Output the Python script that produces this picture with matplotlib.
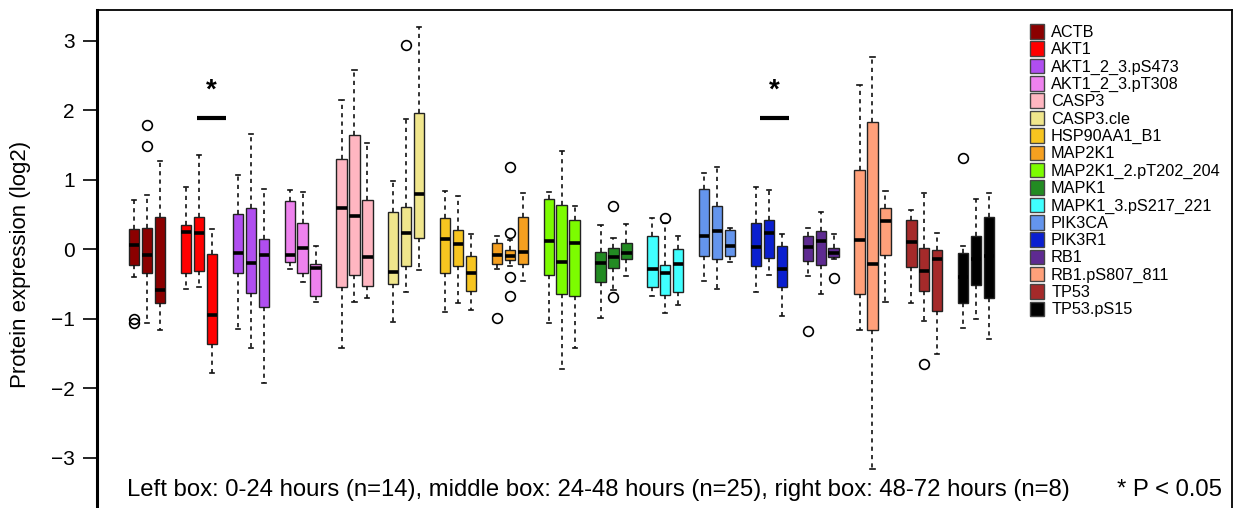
import matplotlib
matplotlib.use("Agg")
import matplotlib.pyplot as plt
from matplotlib.patches import Patch

plt.rcParams["font.family"] = ["Liberation Sans", "DejaVu Sans"]

proteins = ["ACTB", "AKT1", "AKT1_2_3.pS473", "AKT1_2_3.pT308", "CASP3", "CASP3.cle",
            "HSP90AA1_B1", "MAP2K1", "MAP2K1_2.pT202_204", "MAPK1", "MAPK1_3.pS217_221",
            "PIK3CA", "PIK3R1", "RB1", "RB1.pS807_811", "TP53", "TP53.pS15"]
colors = ["#8b0000", "#ff0000", "#b04ef0", "#ee82ee", "#ffb6c1", "#f0e68c",
          "#f7c520", "#f5a020", "#7cfc00", "#228b22", "#40ffff",
          "#6495ed", "#0a1fd0", "#5e2a91", "#ffa07a", "#a52a2a", "#000000"]

# per protein: left / middle / right box (0-24h, 24-48h, 48-72h)
whis_lo = [[-0.40, -1.07, -1.16], [-0.57, -0.54, -1.78], [-1.15, -1.43, -1.93],
           [-0.29, -0.48, -0.76], [-1.43, -0.76, -0.71], [-1.05, -0.62, -0.30],
           [-0.91, -0.78, -0.88], [-0.29, -0.25, -0.46], [-1.07, -1.72, -1.43],
           [-0.99, -0.59, -0.39], [-0.68, -0.92, -0.81], [-0.46, -0.57, -0.18],
           [-0.62, -0.37, -0.96], [-0.39, -0.64, -0.15], [-1.16, -3.16, -0.76],
           [-0.77, -1.03, -1.51], [-1.13, -1.00, -1.30]]
q1 = [[-0.23, -0.34, -0.78], [-0.34, -0.31, -1.37], [-0.34, -0.63, -0.84],
      [-0.19, -0.35, -0.68], [-0.55, -0.37, -0.53], [-0.50, -0.25, 0.16],
      [-0.34, -0.25, -0.60], [-0.21, -0.16, -0.22], [-0.38, -0.64, -0.67],
      [-0.48, -0.27, -0.15], [-0.54, -0.66, -0.62], [-0.10, -0.14, -0.10],
      [-0.24, -0.13, -0.55], [-0.17, -0.23, -0.12], [-0.65, -1.16, -0.08],
      [-0.26, -0.60, -0.89], [-0.77, -0.52, -0.71]]
med = [[0.06, -0.09, -0.59], [0.24, 0.23, -0.95], [-0.05, -0.20, -0.09],
       [-0.09, 0.01, -0.27], [0.59, 0.47, -0.12], [-0.33, 0.23, 0.79],
       [0.15, 0.07, -0.35], [-0.09, -0.10, -0.04], [0.12, -0.19, 0.08],
       [-0.20, -0.12, -0.06], [-0.28, -0.34, -0.22], [0.19, 0.26, 0.04],
       [0.03, 0.23, -0.28], [0.03, 0.12, -0.05], [0.13, -0.21, 0.40],
       [0.10, -0.31, -0.15], [-0.40, -0.15, -0.10]]
q3 = [[0.29, 0.31, 0.46], [0.34, 0.46, -0.07], [0.51, 0.59, 0.14],
      [0.69, 0.37, -0.21], [1.29, 1.64, 0.70], [0.54, 0.61, 1.96],
      [0.44, 0.28, -0.10], [0.08, -0.01, 0.46], [0.72, 0.63, 0.42],
      [-0.04, 0.02, 0.09], [0.19, -0.23, 0.00], [0.87, 0.62, 0.27],
      [0.37, 0.42, 0.04], [0.19, 0.26, 0.01], [1.14, 1.83, 0.59],
      [0.42, 0.02, -0.01], [-0.05, 0.19, 0.46]]
whis_hi = [[0.70, 0.78, 1.26], [0.90, 1.36, 0.29], [1.06, 1.66, 0.87],
           [0.85, 0.82, 0.04], [2.15, 2.57, 1.52], [0.98, 1.87, 3.20],
           [0.83, 0.76, 0.21], [0.19, 0.13, 0.80], [0.82, 1.41, 0.62],
           [0.35, 0.16, 0.36], [0.44, 0.38, 0.19], [1.10, 1.18, 0.30],
           [0.90, 0.85, 0.22], [0.31, 0.54, 0.21], [2.36, 2.77, 0.83],
           [0.56, 0.81, 0.23], [0.04, 0.72, 0.81]]
outliers = {
    (0, 0): [-1.00, -1.06],
    (0, 1): [1.79, 1.48],
    (5, 1): [2.94],
    (7, 0): [-0.99],
    (7, 1): [1.18, 0.23, -0.40, -0.67],
    (9, 1): [0.62, -0.69],
    (10, 1): [0.45],
    (13, 0): [-1.18],
    (13, 2): [-0.41],
    (15, 1): [-1.66],
    (16, 0): [1.31],
}
signif_centers = [6.95, 50.45]

stats, positions, box_colors = [], [], []
for g in range(len(proteins)):
    for k in range(3):
        stats.append(dict(whislo=whis_lo[g][k], q1=q1[g][k], med=med[g][k],
                          q3=q3[g][k], whishi=whis_hi[g][k],
                          fliers=outliers.get((g, k), [])))
        positions.append(4 * g + k + 1)
        box_colors.append(colors[g])

fig = plt.figure(figsize=(12.39, 5.08), dpi=100)
ax = fig.add_axes([97 / 1239, -10 / 508, 1135 / 1239, 508 / 508])

bp = ax.bxp(stats, positions=positions, widths=0.8, capwidths=0.32,
            patch_artist=True, showfliers=True,
            boxprops=dict(edgecolor="#222222", linewidth=1.0),
            whiskerprops=dict(color="#111111", linewidth=1.2, linestyle=(0, (2.5, 2.5))),
            capprops=dict(color="#111111", linewidth=1.2),
            medianprops=dict(color="black", linewidth=2.6),
            flierprops=dict(marker="o", markerfacecolor="none", markeredgecolor="black",
                            markersize=7, markeredgewidth=1.2))
for patch, c in zip(bp["boxes"], box_colors):
    patch.set_facecolor(c)

for cx in signif_centers:
    ax.plot([cx - 1.1, cx + 1.1], [1.88, 1.88], color="black", linewidth=3,
            solid_capstyle="butt")
    ax.text(cx, 2.28, "*", ha="center", va="center", fontsize=20, fontweight="bold")

ax.set_xlim(-1.88, 85.76)
ax.set_ylim(-3.87, 3.44)
ax.set_xticks([])
ax.set_yticks([-3, -2, -1, 0, 1, 2, 3])
ax.set_yticklabels(["\u22123", "\u22122", "\u22121", "0", "1", "2", "3"])
ax.tick_params(axis="y", labelsize=15, length=10, width=1.2, pad=6)
ax.set_ylabel("Protein expression (log2)", fontsize=16, labelpad=14)
for side in ["top", "right", "bottom"]:
    ax.spines[side].set_linewidth(1.3)
ax.spines["left"].set_linewidth(2.2)

handles = [Patch(facecolor=c, edgecolor="#444444", linewidth=1.0) for c in colors]
ax.legend(handles, proteins, loc="upper left", bbox_to_anchor=(1030 / 1239, 1 - 24 / 508),
          bbox_transform=fig.transFigure, frameon=False, fontsize=11.7,
          handlelength=0.85, handleheight=1.0, handletextpad=0.45,
          labelspacing=0.09, borderpad=0, borderaxespad=0)

ax.text(0.44, -3.47, "Left box: 0-24 hours (n=14), middle box: 24-48 hours (n=25), "
        "right box: 48-72 hours (n=8)", ha="left", va="center", fontsize=17.2)
ax.text(85.0, -3.47, "* P < 0.05", ha="right", va="center", fontsize=17.2)

fig.savefig("out.png", dpi=100)
